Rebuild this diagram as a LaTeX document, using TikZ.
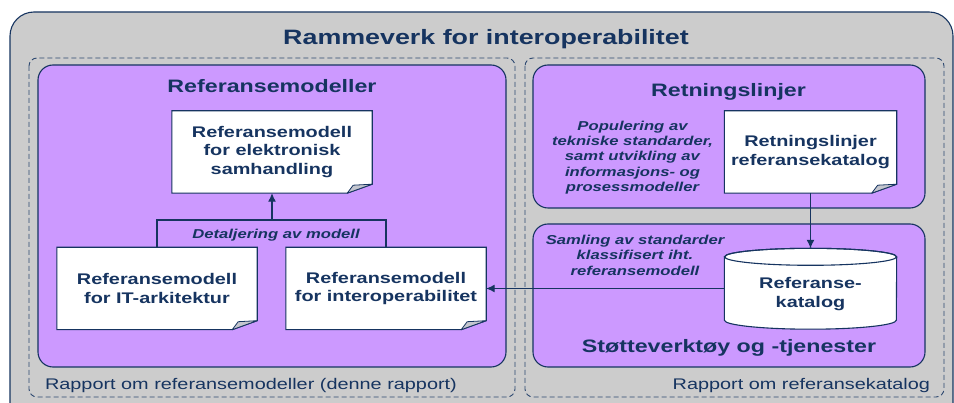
\documentclass[tikz,border=0pt]{standalone}
\usepackage{fontspec}
\setmainfont{Liberation Sans}[FakeStretch=1.29]
\usepackage{tikz}
\usetikzlibrary{calc,backgrounds}
\usetikzlibrary{arrows.meta}
\definecolor{marine}{RGB}{22,52,96}
\definecolor{lilla}{RGB}{204,153,255}
\definecolor{graa}{RGB}{204,204,204}
\definecolor{brett}{RGB}{196,198,206}
\pgfdeclarelayer{papir}
\pgfsetlayers{background,papir,main}
\tikzset{
	ramme/.style={draw=marine, line width=1.1pt},
	stiplet/.style={draw=marine!90, line width=0.9pt, dash pattern=on 5pt off 3pt, rounded corners=8pt},
	felt/.style={ramme, fill=lilla, rounded corners=15pt},
	dok/.style={minimum width=200pt, minimum height=82pt, inner sep=0pt, align=center, text=marine, font=\fontsize{15.4}{18.5}\selectfont\bfseries},
	kursiv/.style={align=center, text=marine, font=\fontsize{12.9}{15.4}\selectfont\bfseries\itshape},
	overskrift/.style={anchor=base, text=marine, font=\fontsize{18}{21}\selectfont\bfseries},
	rapport/.style={anchor=base, text=marine, font=\fontsize{15.4}{18}\selectfont},
	pil/.style={draw=marine, line width=1.2pt, -{Latex[length=8.5pt,width=8pt]}},
}

\begin{document}
\begin{tikzpicture}[x=1pt, y=-1pt]
\useasboundingbox (0,0) rectangle (954,403);

\begin{scope}[on background layer]
\draw[ramme, fill=graa, rounded corners=24pt] (10,12) rectangle (953,440);
\draw[stiplet] (29,58) rectangle (515,397);
\draw[stiplet] (525,58) rectangle (944,397);
\draw[felt] (38,65) rectangle (506,367);
\draw[felt] (533,65) rectangle (925,208);
\draw[felt] (533,224) rectangle (925,367);
\end{scope}

\node[overskrift, font=\fontsize{20.8}{24}\selectfont\bfseries] (tittel) at (486,45) {Rammeverk for interoperabilitet};
\node[overskrift] (modeller) at (272,92.5) {Referansemodeller};
\node[overskrift] (retning) at (728.5,96.5) {Retningslinjer};
\node[overskrift] (verktoy) at (729,352.5) {Støtteverktøy og -tjenester};

\node[dok] (refEH) at (272,152) {Referansemodell\\for elektronisk\\samhandling};
\node[dok] (refIT) at (157,288.5) {Referansemodell\\for IT-arkitektur};
\node[dok] (refIO) at (386,288.5) {Referansemodell\\for interoperabilitet};
\node[dok, minimum width=172pt] (retnDok) at (810.5,152) {Retningslinjer\\referansekatalog};
\node[dok, minimum width=172pt, minimum height=63pt] (kat) at (810.5,288.5) {};
\node[dok, minimum width=0pt, minimum height=0pt] (katTekst) at (810.5,294) {Referanse-\\katalog};

\node[kursiv] (populering) at (632.5,157.5) {Populering av\\tekniske standarder,\\samt utvikling av\\informasjons- og\\prosessmodeller};
\node[kursiv] (samling) at (635,255) {Samling av standarder\\klassifisert iht.\\referansemodell};
\node[kursiv, anchor=base] (detalj) at (276,239) {Detaljering av modell};

\node[rapport, anchor=base west] (rapModell) at (41.5,390) {Rapport om referansemodeller (denne rapport)};
\node[rapport, anchor=base east] (rapKat) at (933.5,390) {Rapport om referansekatalog};

\begin{pgfonlayer}{papir}
\foreach \d in {refEH,refIT,refIO,retnDok}{
	\draw[ramme, fill=white] (\d.north west) -- (\d.north east) -- ([yshift=9pt]\d.south east) -- ([xshift=-25pt]\d.south east) -- (\d.south west) -- cycle;
	\draw[ramme, line width=0.8pt, fill=brett, line join=round] ([xshift=-25pt]\d.south east) -- ([xshift=-19pt,yshift=8pt]\d.south east) -- ([yshift=9pt]\d.south east) -- cycle;
}
\draw[ramme, fill=white] (kat.north west) -- (kat.south west) arc[start angle=180, end angle=360, x radius=86pt, y radius=9pt] -- (kat.north east) arc[start angle=0, end angle=180, x radius=86pt, y radius=8.5pt] -- cycle;
\draw[ramme] (kat.north) ellipse [x radius=86pt, y radius=8.5pt];
\end{pgfonlayer}

\coordinate (deling) at (272,220);
\draw[ramme] (refIT.north) |- (deling) -| (refIO.north);
\draw[pil] (deling) -- (refEH.south);
\draw[pil] (retnDok.south) -- ([yshift=8.5pt]kat.north);
\draw[pil] (kat.west) -- (refIO.east);
\end{tikzpicture}
\end{document}
